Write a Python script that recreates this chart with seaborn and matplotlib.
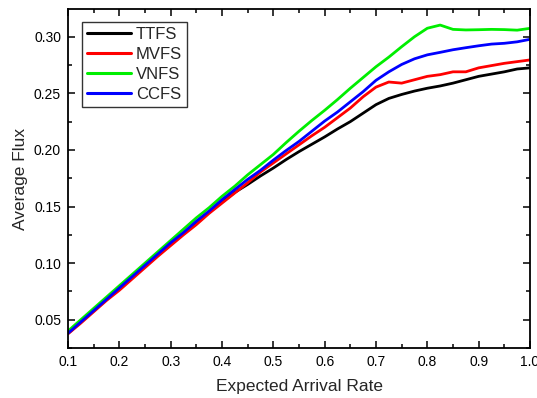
import numpy as np
import pandas as pd
import matplotlib
matplotlib.use("Agg")
import matplotlib.pyplot as plt
import seaborn as sns
from matplotlib.ticker import MultipleLocator

# ---- data ----
rate = [0.100, 0.125, 0.150, 0.175, 0.200, 0.225, 0.250, 0.275, 0.300, 0.325,
        0.350, 0.375, 0.400, 0.425, 0.450, 0.475, 0.500, 0.525, 0.550, 0.575,
        0.600, 0.625, 0.650, 0.675, 0.700, 0.725, 0.750, 0.775, 0.800, 0.825,
        0.850, 0.875, 0.900, 0.925, 0.950, 0.975, 1.000]

ttfs = [0.0380, 0.0480, 0.0580, 0.0680, 0.0780, 0.0870, 0.0970, 0.1070, 0.1165, 0.1260,
        0.1350, 0.1450, 0.1540, 0.1625, 0.1695, 0.1770, 0.1840, 0.1915, 0.1985, 0.2050,
        0.2115, 0.2185, 0.2250, 0.2325, 0.2400, 0.2455, 0.2490, 0.2520, 0.2545, 0.2565,
        0.2590, 0.2620, 0.2650, 0.2670, 0.2690, 0.2715, 0.2725]

mvfs = [0.0375, 0.0470, 0.0570, 0.0670, 0.0760, 0.0860, 0.0960, 0.1060, 0.1155, 0.1250,
        0.1340, 0.1440, 0.1530, 0.1620, 0.1710, 0.1805, 0.1885, 0.1965, 0.2045, 0.2125,
        0.2200, 0.2285, 0.2370, 0.2470, 0.2555, 0.2600, 0.2590, 0.2620, 0.2650, 0.2665,
        0.2690, 0.2690, 0.2725, 0.2745, 0.2765, 0.2780, 0.2795]

vnfs = [0.0400, 0.0500, 0.0600, 0.0700, 0.0800, 0.0900, 0.1000, 0.1100, 0.1200, 0.1300,
        0.1400, 0.1490, 0.1590, 0.1680, 0.1780, 0.1870, 0.1960, 0.2065, 0.2165, 0.2260,
        0.2350, 0.2445, 0.2545, 0.2640, 0.2735, 0.2820, 0.2912, 0.3000, 0.3075, 0.3103,
        0.3065, 0.3060, 0.3062, 0.3065, 0.3063, 0.3058, 0.3074]

ccfs = [0.0380, 0.0480, 0.0580, 0.0680, 0.0780, 0.0880, 0.0980, 0.1080, 0.1180, 0.1270,
        0.1370, 0.1460, 0.1560, 0.1650, 0.1740, 0.1820, 0.1910, 0.1995, 0.2075, 0.2165,
        0.2255, 0.2335, 0.2425, 0.2515, 0.2615, 0.2690, 0.2755, 0.2805, 0.2840, 0.2862,
        0.2885, 0.2903, 0.2920, 0.2935, 0.2942, 0.2955, 0.2977]

series_names = ["TTFS", "MVFS", "VNFS", "CCFS"]
series_colors = ["#000000", "#ff0000", "#00ee00", "#0000ff"]
x_ticks = [0.1, 0.2, 0.3, 0.4, 0.5, 0.6, 0.7, 0.8, 0.9, 1.0]
y_ticks = [0.05, 0.10, 0.15, 0.20, 0.25, 0.30]

frames = []
for name, vals in zip(series_names, [ttfs, mvfs, vnfs, ccfs]):
    frames.append(pd.DataFrame({"rate": rate, "flux": vals, "method": name}))
df = pd.concat(frames, ignore_index=True)

# ---- style ----
sns.set_theme(style="ticks")
plt.rcParams["font.family"] = ["Liberation Sans", "DejaVu Sans"]

fig = plt.figure(figsize=(5.37, 3.98), dpi=100)
ax = fig.add_axes([68 / 537, 1 - 348 / 398, (530 - 68) / 537, (348 - 9) / 398])

sns.lineplot(data=df, x="rate", y="flux", hue="method", hue_order=series_names,
             palette=dict(zip(series_names, series_colors)), linewidth=2.0,
             ax=ax, legend=True, estimator=None, sort=False)

ax.set_xlim(0.1, 1.0)
ax.set_ylim(0.025, 0.3245)
ax.set_xticks(x_ticks)
ax.set_xticklabels([f"{v:.1f}" for v in x_ticks])
ax.set_yticks(y_ticks)
ax.set_yticklabels([f"{v:.2f}" for v in y_ticks])
ax.xaxis.set_minor_locator(MultipleLocator(0.05))
ax.yaxis.set_minor_locator(MultipleLocator(0.025))
ax.tick_params(which="both", direction="in", top=True, right=True,
               labelsize=10, colors="black", width=1.1, pad=5)
ax.tick_params(which="major", length=5)
ax.tick_params(which="minor", length=3)
for s in ax.spines.values():
    s.set_linewidth(1.3)
    s.set_color("black")

ax.set_xlabel("Expected Arrival Rate", fontsize=12.5, labelpad=7)
ax.set_ylabel("Average Flux", fontsize=12.5, labelpad=4)

leg = ax.legend(loc="upper left", bbox_to_anchor=(0.031, 0.963), fontsize=12,
                frameon=True, fancybox=False, edgecolor="black",
                handlelength=2.6, handletextpad=0.3, borderpad=0.3,
                labelspacing=0.3, borderaxespad=0)
leg.get_frame().set_linewidth(1.0)
for line in leg.get_lines():
    line.set_linewidth(2.2)

fig.savefig("out.png", dpi=100)
